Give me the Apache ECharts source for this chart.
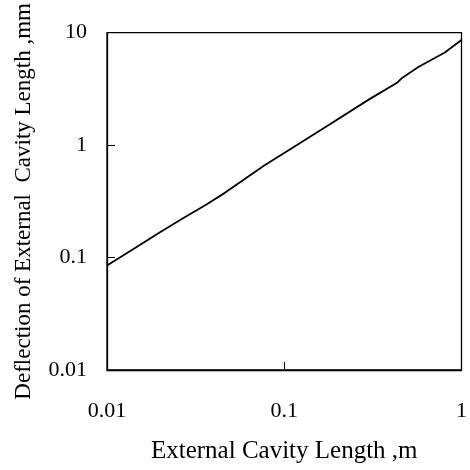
<!DOCTYPE html>
<html>
<head>
<meta charset="utf-8">
<script src="https://cdn.jsdelivr.net/npm/echarts@6/dist/echarts.min.js"></script>
<style>html,body{margin:0;padding:0;background:#fff;}#c{width:470px;height:470px;}</style>
</head>
<body>
<div id="c"></div>
<script>
const xValues = [0.01, 0.0141, 0.0198, 0.0267, 0.0358, 0.0462, 0.0771, 0.118, 0.181, 0.301, 0.433, 0.462, 0.571, 0.805, 1];
const yValues = [0.085, 0.119, 0.167, 0.222, 0.292, 0.376, 0.658, 1.0, 1.53, 2.55, 3.58, 3.96, 4.95, 6.67, 8.6];
const xTickLabels = ['0.01', '0.1', '1'];
const yTickLabels = ['0.01', '0.1', '1', '10'];
const xTitle = 'External Cavity Length ,m';
const yTitle = 'Deflection of External  Cavity Length ,mm';

const FONT = 'Liberation Serif';
function labelFor(arr, minExp) {
  return function (v) {
    const i = Math.round(Math.log10(v)) - minExp;
    return arr[i] !== undefined ? arr[i] : '';
  };
}
const chart = echarts.init(document.getElementById('c'), null, {renderer: 'canvas'});
chart.setOption({
  animation: false,
  backgroundColor: '#fff',
  grid: {left: 107, right: 3.5, top: 30, bottom: 100, show: true, borderColor: '#000', borderWidth: 1.3},
  xAxis: {
    type: 'log', logBase: 10, min: 0.01, max: 1,
    name: xTitle, nameLocation: 'middle', nameGap: 69,
    nameTextStyle: {fontFamily: FONT, fontSize: 25, color: '#000'},
    axisLine: {show: true, lineStyle: {color: '#000', width: 1.3}},
    axisTick: {show: true, inside: true, length: 8, lineStyle: {color: '#000', width: 1}},
    minorTick: {show: false},
    splitLine: {show: false},
    axisLabel: {fontFamily: FONT, fontSize: 22, color: '#000', margin: 30, formatter: labelFor(xTickLabels, -2)}
  },
  yAxis: {
    type: 'log', logBase: 10, min: 0.01, max: 10,
    name: yTitle, nameLocation: 'middle', nameGap: 72, nameRotate: 90,
    nameTextStyle: {fontFamily: FONT, fontSize: 23, color: '#000'},
    axisLine: {show: true, lineStyle: {color: '#000', width: 1.3}},
    axisTick: {show: true, inside: true, length: 8, lineStyle: {color: '#000', width: 1}},
    minorTick: {show: false},
    splitLine: {show: false},
    axisLabel: {fontFamily: FONT, fontSize: 22, color: '#000', margin: 20, formatter: labelFor(yTickLabels, -2)}
  },
  series: [{
    type: 'line',
    data: xValues.map((x, i) => [x, yValues[i]]),
    showSymbol: false,
    smooth: false,
    lineStyle: {color: '#000', width: 1.8},
    clip: true
  }]
});
</script>
</body>
</html>
